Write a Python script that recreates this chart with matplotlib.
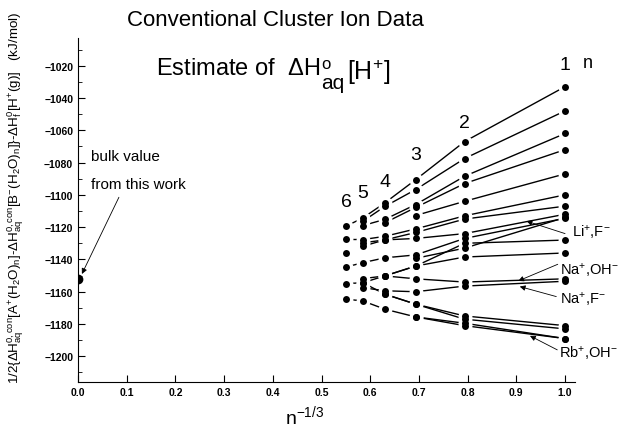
import numpy as np
import matplotlib.pyplot as plt

plt.rcParams['font.family'] = ['Liberation Sans', 'DejaVu Sans']
plt.rcParams['mathtext.fontset'] = 'custom'
plt.rcParams['mathtext.rm'] = 'Liberation Sans'
plt.rcParams['mathtext.it'] = 'Liberation Sans'
plt.rcParams['mathtext.bf'] = 'Liberation Sans:bold'

# cluster size n and abscissa n^-1/3
n_vals = np.array([1, 2, 3, 4, 5, 6])
x_vals = n_vals ** (-1.0 / 3.0)

nan = np.nan
# one row per salt pair, columns n = 1..6 (kJ/mol)
series = [
    [-1033, -1067, -1090.6, -1105, -1114.3, -1119.4],
    [-1048, -1077.5, -1096.7, -1107.2, -1116.4, nan],
    [-1062, -1088.5, -1106, -1115.2, -1119, nan],
    [-1072, -1093, -1107.8, -1117.3, nan, nan],
    [-1087, -1104, -1112.8, nan, nan, nan],
    [-1100, -1113, -1121.1, -1125.7, -1127.7, -1127.6],
    [-1107, -1115, -1123.3, -1127.9, -1129.7, nan],
    [-1112, -1124, -1127, -1127.9, -1131.8, nan],
    [-1114, -1133, -1139.3, nan, nan, nan],
    [-1114.5, -1127, -1137.2, -1139, -1142, -1144.7],
    [-1128, -1130, -1144.1, -1150.2, -1151.9, nan],
    [-1136, -1138.5, -1144.1, -1150.2, nan, -1135.8],
    [-1152, -1154, -1152, -1150.2, -1154.4, -1155],
    [-1153.5, -1156.5, -1160, -1159.4, -1157.5, nan],
    [-1181, -1175, -1167.7, -1161.5, -1154.4, nan],
    [-1183, -1177, -1167.7, -1161.5, nan, nan],
    [-1189, -1179.5, -1175.6, -1170.8, -1165.7, -1164.6],
    [-1189, -1181, -1175.6, nan, nan, nan],
]
bulk_x = 0.0
bulk_value = -1152

fig = plt.figure(figsize=(6.21, 4.31), dpi=100)
ax = fig.add_axes([0.1256, 0.111, 0.8, 0.798])

# lines first, then white halos to leave gaps, then dots on top
for s in series:
    ax.plot(x_vals, s, '-', color='black', lw=1.0, zorder=1)
for s in series:
    ax.plot(x_vals, s, 'o', color='white', ms=10, mew=0, zorder=2)
for s in series:
    ax.plot(x_vals, s, 'o', color='black', ms=5, mew=0, zorder=3)

ax.plot([bulk_x], [bulk_value], 'o', color='black', ms=6, zorder=3)

ax.set_xlim(0, 1.02)
ax.set_ylim(-1216, -1003)
ax.set_xticks(np.arange(0, 1.01, 0.1))
ax.set_xticklabels(['%.1f' % t for t in np.arange(0, 1.01, 0.1)])
ax.set_yticks(np.arange(-1200, -1019, 20))
ax.set_yticks(np.arange(-1210, -1005, 10), minor=True)
ax.tick_params(direction='in', labelsize=7.5, width=0.8, length=5)
ax.tick_params(which='minor', direction='in', length=3, width=0.6)
for lbl in ax.get_xticklabels() + ax.get_yticklabels():
    lbl.set_fontweight('bold')
ax.spines['top'].set_visible(False)
ax.spines['right'].set_visible(False)

ax.set_xlabel(r'n$^{-1/3}$', fontsize=14)
ax.xaxis.set_label_coords(0.457, -0.062)
ax.set_ylabel(r'1/2{$\Delta$H$^{0,con}_{aq}$[A$^{+}$(H$_{2}$O)$_{n}$]-$\Delta$H$^{0,con}_{aq}$'
              r'[B$^{-}$(H$_{2}$O)$_{n}$]}-$\Delta$H$^{0}_{f}$[H$^{+}$(g)]   (kJ/mol)',
              fontsize=9.6)
ax.yaxis.set_label_coords(-0.105, 0.54)

fig.text(0.443, 0.94, 'Conventional Cluster Ion Data', fontsize=16, ha='center')

# "Estimate of  dH°aq[H+]" built from chained pieces
t1 = ax.text(0.16, -1025, r'Estimate of  $\Delta$H', fontsize=17, va='baseline')
sup = ax.annotate('o', xy=(1, 1), xycoords=t1, xytext=(1, -5), textcoords='offset points',
                  fontsize=12, va='center', ha='left')
sub = ax.annotate('aq', xy=(1, 0), xycoords=t1, xytext=(1, -7), textcoords='offset points',
                  fontsize=15, va='baseline', ha='left')
ax.annotate(r'[H$^{+}$]', xy=(1, 0), xycoords=(sub, t1), xytext=(2, 0), textcoords='offset points',
            fontsize=18, va='baseline', ha='left')

for n, xv, yv in zip(n_vals, x_vals, [-1019, -1055, -1075, -1091.6, -1098.6, -1104]):
    ax.text(xv, yv, str(n), fontsize=14, ha='center', va='center')
ax.text(1.047, -1018, 'n', fontsize=13, ha='center', va='center', clip_on=False)

ax.text(0.027, -1076, 'bulk value', fontsize=11, va='center')
ax.text(0.027, -1093, 'from this work', fontsize=11, va='center')
arrow = dict(arrowstyle='-|>', lw=0.6, color='black', mutation_scale=8, shrinkA=0, shrinkB=0)
ax.annotate('', xy=(0.008, -1149), xytext=(0.084, -1101.5), arrowprops=arrow)

labels = [
    (r'Li$^{+}$,F$^{-}$', (0.921, -1116.3), (1.0, -1124), (1.014, -1122.5)),
    (r'Na$^{+}$,OH$^{-}$', (0.904, -1153.3), (0.985, -1143), (0.990, -1146)),
    (r'Na$^{+}$,F$^{-}$', (0.907, -1156.8), (0.982, -1163), (0.990, -1163.6)),
    (r'Rb$^{+}$,OH$^{-}$', (0.928, -1187.3), (0.984, -1196), (0.988, -1197.4)),
]
for txt, head, tail, pos in labels:
    ax.annotate('', xy=head, xytext=tail, arrowprops=arrow)
    ax.text(pos[0], pos[1], txt, fontsize=10.5, va='center', clip_on=False)

fig.savefig('out.png', dpi=100)
